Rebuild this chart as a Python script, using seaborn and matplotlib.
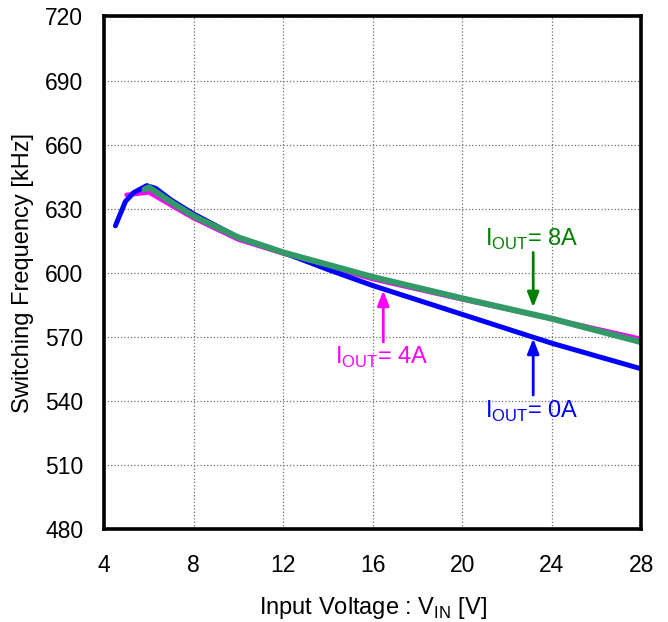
import matplotlib
matplotlib.use("Agg")
import matplotlib.pyplot as plt
import seaborn as sns
import pandas as pd

# switching frequency vs input voltage
VIN_0A = [4.5, 4.95, 5.3, 5.9, 6.3, 7, 8, 10, 12, 14, 16, 20, 24, 28]
FSW_0A = [622, 633.4, 637.4, 640.8, 639.5, 634, 627.5, 616.5, 609.5, 601.5, 594,
          580.5, 567, 555]

VIN_4A = [5.0, 5.5, 6.0, 7, 8, 10, 12, 16, 20, 24, 28]
FSW_4A = [636.5, 637, 637.6, 631.5, 625.5, 615.5, 609, 597, 587.5, 578.5, 569]

VIN_8A = [5.8, 6.0, 7, 8, 10, 12, 16, 20, 24, 28]
FSW_8A = [639, 640, 633, 626.5, 616.5, 609.5, 598, 588, 578.5, 567.5]

X_TICKS = [4, 8, 12, 16, 20, 24, 28]
Y_TICKS = [480, 510, 540, 570, 600, 630, 660, 690, 720]

# (text, text x, text y, arrow tail y, arrow tip y, colour)
LABELS = [
    (r"I$_{\mathrm{OUT}}$= 8A", 23.1, 615.5, 610.8, 582.5, "#008000"),
    (r"I$_{\mathrm{OUT}}$= 4A", 16.4, 560.2, 566.3, 593.0, "#FF00FF"),
    (r"I$_{\mathrm{OUT}}$= 0A", 23.1, 534.9, 541.4, 570.5, "#0000FF"),
]


def main():
    sns.set_style("white")
    plt.rcParams["font.family"] = ["Liberation Sans", "DejaVu Sans"]
    plt.rcParams["mathtext.fontset"] = "custom"
    plt.rcParams["mathtext.rm"] = "Liberation Sans"
    plt.rcParams["text.color"] = "black"
    plt.rcParams["axes.labelcolor"] = "black"
    plt.rcParams["xtick.color"] = "black"
    plt.rcParams["ytick.color"] = "black"

    fig = plt.figure(figsize=(6.68, 6.22), dpi=100)
    ax = fig.add_axes([0.156, 0.1495, 0.804, 0.824])

    d4 = pd.DataFrame({"vin": VIN_4A, "fsw": FSW_4A})
    d0 = pd.DataFrame({"vin": VIN_0A, "fsw": FSW_0A})
    d8 = pd.DataFrame({"vin": VIN_8A, "fsw": FSW_8A})
    sns.lineplot(data=d4, x="vin", y="fsw", color="#FF00FF", linewidth=3.2,
                 sort=False, ax=ax)
    sns.lineplot(data=d0, x="vin", y="fsw", color="#0000FF", linewidth=3.6,
                 sort=False, ax=ax)
    sns.lineplot(data=d8, x="vin", y="fsw", color="#339966", linewidth=4.4,
                 sort=False, ax=ax)

    ax.set_xlim(4, 28)
    ax.set_ylim(480, 720)
    ax.set_xticks(X_TICKS)
    ax.set_yticks(Y_TICKS)
    ax.tick_params(labelsize=16.5, length=0, labelcolor="black")
    ax.tick_params(axis="x", pad=18)
    ax.tick_params(axis="y", pad=15)
    ax.grid(True, color="#707070", linestyle=":", linewidth=0.9)
    for s in ax.spines.values():
        s.set_visible(True)
        s.set_color("black")
        s.set_linewidth(2.6)

    ax.set_xlabel(r"Input Voltage : V$_{\mathrm{IN}}$ [V]", fontsize=17,
                  labelpad=13, color="black")
    ax.set_ylabel("Switching Frequency [kHz]", fontsize=17, labelpad=8,
                  color="black")

    for txt, tx, ty, tail, tip, col in LABELS:
        ax.text(tx, ty, txt, color=col, fontsize=17, ha="center",
                va="center")
        ax.annotate("", xy=(tx + 0.07, tip), xytext=(tx + 0.07, tail),
                    arrowprops=dict(arrowstyle="-|>,head_width=0.35,"
                                    "head_length=0.9", color=col, lw=2))

    fig.savefig("out.png", dpi=100)


if __name__ == "__main__":
    main()
